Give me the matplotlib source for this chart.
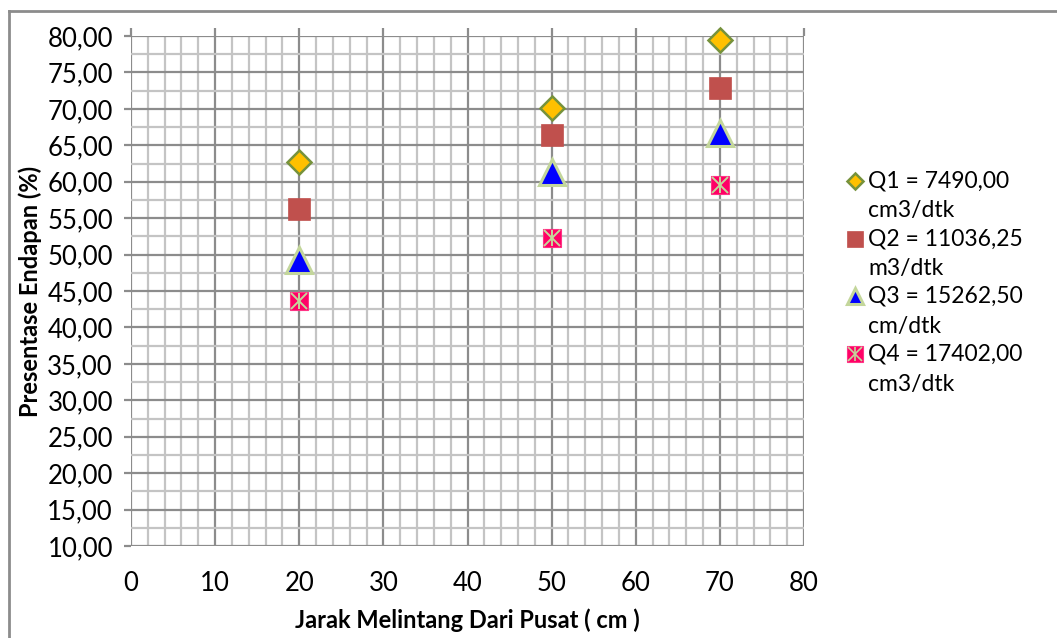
import matplotlib
matplotlib.use('Agg')
import matplotlib.pyplot as plt
from matplotlib.lines import Line2D
from matplotlib.ticker import MultipleLocator

plt.rcParams['font.family'] = ['Lato', 'DejaVu Sans']

# === DATA ===
jarak = [20, 50, 70]
q1 = [62.7, 70.1, 79.4]
q2 = [56.2, 66.4, 72.9]
q3 = [49.2, 61.4, 66.7]
q4 = [43.6, 52.3, 59.5]
labels = ["Q1 = 7490,00\ncm3/dtk", "Q2 = 11036,25\nm3/dtk",
          "Q3 = 15262,50\ncm/dtk", "Q4 = 17402,00\ncm3/dtk"]

# === STYLES ===
MAJOR = '#8c8c8c'
MINOR = '#c4c4c4'
styles = [
    dict(marker='D', color='#FFC000', mec='#76923C', mew=1.8),
    dict(marker='s', color='#C0504D', mec='#C0504D', mew=0.5),
    dict(marker='^', color='#0000FF', mec='#C3D69B', mew=2.2),
    dict(marker='s', color='#FF0066', mec='#FF3385', mew=0.8),
]
plot_sizes = [12.5, 15.5, 19, 13.5]
legend_sizes = [8.5, 11.5, 12, 11.5]
CROSS = '#C4D79B'
FS_TICK = 18.5
FS_LEG = 16.5
FS_LABEL = 17

W, H = 1057, 638
fig = plt.figure(figsize=(W / 100, H / 100), dpi=100)
ax = fig.add_axes([131 / W, 1 - 546 / H, (804 - 131) / W, (546 - 36) / H])

ax.set_xlim(0, 80)
ax.set_ylim(10, 80)
ax.xaxis.set_major_locator(MultipleLocator(10))
ax.xaxis.set_minor_locator(MultipleLocator(2))
ax.yaxis.set_major_locator(MultipleLocator(5))
ax.yaxis.set_minor_locator(MultipleLocator(2.5))
ax.yaxis.set_major_formatter(lambda v, p: f"{v:.2f}".replace('.', ','))

ax.grid(which='major', color=MAJOR, lw=1.6)
ax.grid(which='minor', color=MINOR, lw=1.6)
ax.set_axisbelow(True)
for s in ax.spines.values():
    s.set_visible(False)

ax.tick_params(axis='y', which='major', length=5, width=1.6, color=MAJOR,
               pad=8, labelsize=FS_TICK)
ax.tick_params(axis='x', which='major', length=6, width=1.6, color=MAJOR,
               top=True, bottom=False, labeltop=False, labelbottom=True,
               pad=12, labelsize=FS_TICK)
ax.tick_params(which='minor', length=0)

series = [q1, q2, q3, q4]
for vals, st, ms in zip(series, styles, plot_sizes):
    ax.plot(jarak, vals, ls='none', ms=ms, zorder=3, clip_on=False, **st)
# asterisk drawn over the Q4 squares
ax.plot(jarak, q4, ls='none', marker='x', ms=plot_sizes[3] * 0.85,
        mew=1.4, color=CROSS, zorder=4)
ax.plot(jarak, q4, ls='none', marker='|', ms=plot_sizes[3] * 0.85,
        mew=1.4, color=CROSS, zorder=4)

ax.set_xlabel("Jarak Melintang Dari Pusat ( cm )", fontsize=FS_LABEL,
              fontweight='bold', labelpad=9)
ax.set_ylabel("Presentase Endapan (%)", fontsize=FS_LABEL, fontweight='bold',
              labelpad=4)

# legend, marker aligned with the first line of each label
for i, (lab, st, ms) in enumerate(zip(labels, styles, legend_sizes)):
    y = 1 - (181 + 57.7 * i) / H
    fig.add_artist(Line2D([855 / W], [y], ls='none', ms=ms, **st))
    if i == 3:
        for m in ('x', '|'):
            fig.add_artist(Line2D([855 / W], [y], ls='none', marker=m,
                                  ms=ms * 0.85, mew=1.2, color=CROSS))
    first, second = lab.split('\n')
    fig.text(868 / W, y, first, fontsize=FS_LEG, va='center', ha='left')
    fig.text(868 / W, y - 30 / H, second, fontsize=FS_LEG, va='center', ha='left')

# chart area border
fig.add_artist(Line2D([9 / W, 9 / W], [0, 1 - 11 / H], color=MAJOR, lw=2))
fig.add_artist(Line2D([9 / W, 1], [1 - 11 / H, 1 - 11 / H], color=MAJOR, lw=2))

fig.savefig('out.png', dpi=100)
